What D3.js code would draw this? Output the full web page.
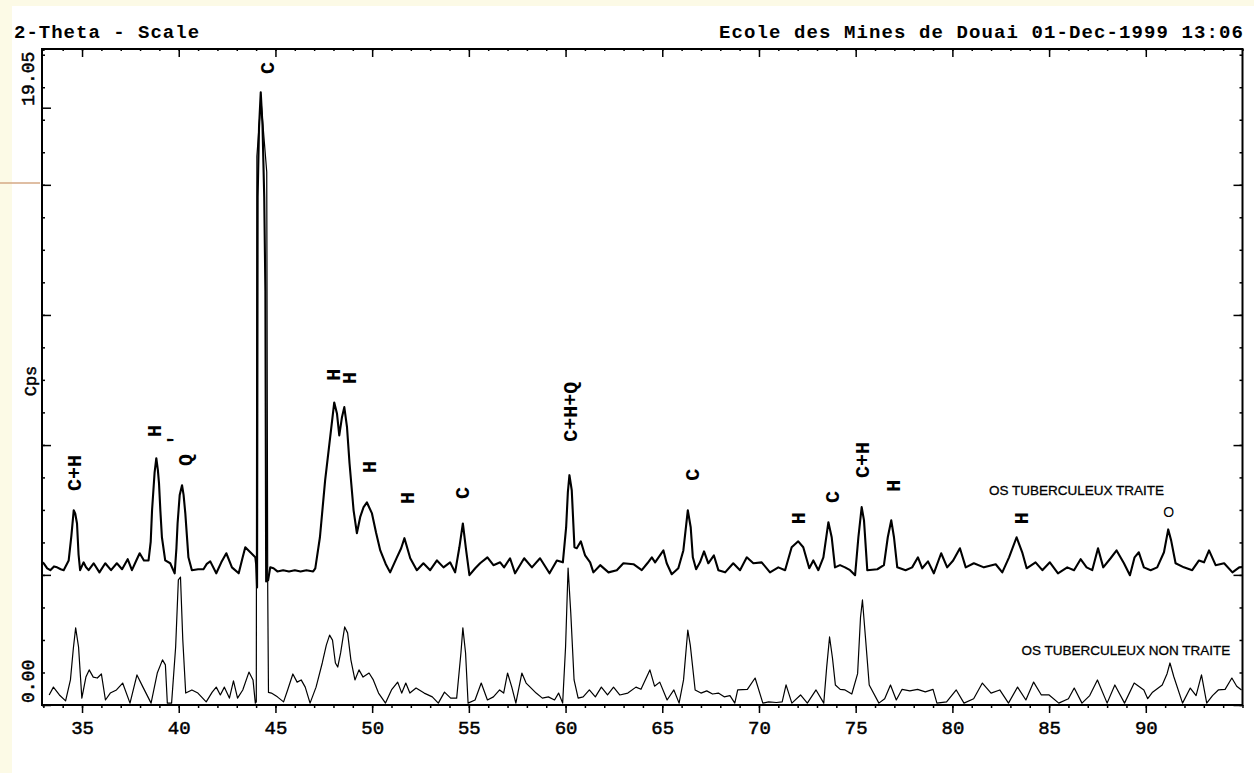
<!DOCTYPE html>
<html>
<head>
<meta charset="utf-8">
<script src="https://cdn.jsdelivr.net/npm/d3@7"></script>
<style>
  html, body { margin: 0; padding: 0; background: #fcfae6; }
  svg { display: block; }
  .mono { font-family: "Liberation Mono", "DejaVu Sans Mono", monospace; font-weight: bold; fill: #000; }
  .sans { font-family: "Liberation Sans", Arial, sans-serif; fill: #000; }
  .tick line { stroke: #000; stroke-width: 1.5; }
</style>
</head>
<body>
<svg id="chart" width="1254" height="773"></svg>
<script>
// 2-theta range and axis ticks
var thetaDomain = [32.93, 95.0];
var thetaMajor = [35, 40, 45, 50, 55, 60, 65, 70, 75, 80, 85, 90];
var thetaMinor = d3.range(33, 96, 1);
var cpsLabelTicks = [0, 19.05];
var cpsMajor = [0, 4.15, 8.29, 12.44, 16.59];
var cpsMinor = d3.range(0, 20.9, 1.037);

// vertical offset of the treated sample trace (Cps)
var traiteOffset = 4.2;

// OS TUBERCULEUX TRAITE : [2-theta, Cps]
var traite = [
  [32.95, 0.35], [33.02, 0.32], [33.2, 0.16], [33.36, 0.10], [33.55, 0.22], [33.71, 0.19], [33.9, 0.13], [34.05, 0.10],
  [34.31, 0.41], [34.45, 1.2], [34.57, 2.01], [34.65, 1.9], [34.74, 1.59], [34.82, 0.6], [34.9, 0.10], [35.08, 0.35],
  [35.2, 0.2], [35.34, 0.10], [35.6, 0.32], [35.9, 0.03], [36.2, 0.32], [36.5, 0.10], [36.8, 0.32], [37.07, 0.13],
  [37.36, 0.45], [37.58, 0.10], [37.8, 0.4], [37.98, 0.64], [38.2, 0.41], [38.44, 0.41], [38.55, 1.0], [38.62, 2.01],
  [38.75, 3.2], [38.84, 3.67], [38.92, 3.3], [38.98, 2.87], [39.05, 2.0], [39.13, 1.15], [39.3, 0.41], [39.56, 0.32],
  [39.79, 0.0], [39.88, 0.8], [39.94, 1.59], [40.05, 2.5], [40.17, 2.81], [40.25, 2.5], [40.34, 1.91], [40.5, 0.51],
  [40.68, 0.10], [41.0, 0.13], [41.28, 0.13], [41.45, 0.3], [41.63, 0.38], [41.94, 0.0], [42.2, 0.35], [42.46, 0.64],
  [42.75, 0.19], [43.1, 0.0], [43.3, 0.5], [43.44, 0.83], [43.7, 0.67], [43.96, 0.51], [44.0, 0.3], [44.05, -0.45],
  [44.08, 12.0], [44.15, 14.2], [44.24, 15.34], [44.33, 14.3], [44.42, 12.0], [44.48, 9.0], [44.52, -0.26], [44.62, -0.22],
  [44.73, 0.19], [44.9, 0.16], [45.1, 0.06], [45.4, 0.10], [45.7, 0.06], [46.0, 0.10], [46.3, 0.06], [46.6, 0.10],
  [46.95, 0.06], [47.06, 0.16], [47.3, 1.15], [47.57, 2.97], [47.83, 4.34], [48.04, 5.45], [48.18, 5.10], [48.3, 4.40],
  [48.44, 4.98], [48.56, 5.30], [48.7, 4.66], [48.83, 3.51], [49.04, 2.01], [49.21, 1.28], [49.38, 1.79], [49.55, 2.1],
  [49.73, 2.26], [49.99, 1.91], [50.2, 1.3], [50.42, 0.73], [50.7, 0.3], [50.93, 0.03], [51.28, 0.51], [51.5, 0.8],
  [51.67, 1.12], [51.97, 0.48], [52.31, 0.10], [52.65, 0.32], [53.0, 0.10], [53.35, 0.41], [53.69, 0.19], [54.03, 0.35],
  [54.29, 0.03], [54.51, 0.83], [54.69, 1.59], [54.86, 0.73], [55.03, -0.06], [55.33, 0.16], [55.58, 0.32], [55.96, 0.51],
  [56.27, 0.26], [56.62, 0.35], [56.82, 0.19], [57.13, 0.48], [57.39, 0.0], [57.86, 0.48], [58.26, 0.19], [58.68, 0.48],
  [59.17, 0.0], [59.55, 0.41], [59.86, 0.35], [60.03, 1.47], [60.12, 2.6], [60.2, 3.13], [60.32, 2.65], [60.46, 0.83],
  [60.58, 0.80], [60.79, 1.02], [61.01, 0.57], [61.27, 0.35], [61.44, 0.03], [61.79, 0.26], [62.22, 0.03], [62.65, 0.10],
  [62.99, 0.32], [63.51, 0.29], [63.94, 0.10], [64.23, 0.32], [64.46, 0.51], [64.63, 0.35], [65.06, 0.73], [65.23, 0.32],
  [65.49, -0.03], [65.83, 0.16], [66.09, 0.73], [66.32, 2.01], [66.47, 1.47], [66.58, 0.51], [66.75, 0.13], [66.95, 0.35],
  [67.16, 0.70], [67.38, 0.32], [67.67, 0.57], [67.9, 0.10], [68.25, 0.03], [68.67, 0.32], [69.02, 0.10], [69.37, 0.51],
  [69.71, 0.32], [70.14, 0.35], [70.57, 0.03], [71.0, 0.19], [71.35, 0.10], [71.69, 0.83], [72.03, 1.02], [72.29, 0.83],
  [72.6, 0.16], [72.81, 0.41], [73.07, 0.10], [73.33, 0.51], [73.59, 1.63], [73.76, 1.15], [73.93, 0.19], [74.19, 0.26],
  [74.45, 0.19], [74.71, 0.10], [74.97, -0.06], [75.14, 1.15], [75.31, 2.11], [75.43, 1.69], [75.6, 0.10], [76.12, 0.13],
  [76.46, 0.26], [76.66, 1.15], [76.84, 1.69], [76.98, 1.15], [77.15, 0.19], [77.58, 0.10], [77.92, 0.19], [78.22, 0.51],
  [78.44, 0.16], [78.74, 0.38], [79.04, 0.0], [79.42, 0.64], [79.73, 0.19], [80.04, 0.41], [80.39, 0.80], [80.69, 0.19],
  [81.11, 0.32], [81.63, 0.19], [82.24, 0.29], [82.58, 0.03], [82.93, 0.51], [83.32, 1.15], [83.61, 0.67], [83.84, 0.16],
  [84.3, 0.35], [84.65, 0.10], [85.04, 0.35], [85.46, 0.0], [85.94, 0.19], [86.29, 0.10], [86.63, 0.45], [86.94, 0.19],
  [87.23, 0.10], [87.53, 0.80], [87.8, 0.19], [88.18, 0.48], [88.49, 0.73], [88.87, 0.32], [89.18, -0.06], [89.42, 0.51],
  [89.64, 0.67], [89.9, 0.19], [90.25, 0.10], [90.59, 0.19], [90.94, 0.67], [91.16, 1.40], [91.31, 1.05], [91.54, 0.32],
  [91.97, 0.19], [92.4, 0.10], [92.75, 0.41], [93.01, 0.35], [93.27, 0.73], [93.61, 0.26], [94.05, 0.32], [94.48, 0.03],
  [94.83, 0.19], [95.0, 0.2]
];

// OS TUBERCULEUX NON TRAITE : [2-theta, Cps]
var nonTraite = [
  [33.3, 0.32], [33.52, 0.57], [33.83, 0.32], [34.15, 0.13], [34.4, 0.80], [34.55, 1.8], [34.67, 2.46], [34.82, 1.85],
  [34.99, 0.22], [35.2, 0.89], [35.37, 1.12], [35.58, 0.89], [35.79, 0.86], [36.0, 0.99], [36.21, 0.16], [36.46, 0.38],
  [36.78, 0.48], [37.1, 0.70], [37.48, 0.06], [37.84, 0.96], [38.15, 0.57], [38.57, 0.06], [38.89, 1.02], [39.16, 1.44],
  [39.31, 1.28], [39.41, 0.06], [39.63, 0.06], [39.84, 1.85], [39.98, 3.99], [40.09, 4.08], [40.21, 2.07], [40.36, 0.38],
  [40.68, 0.48], [40.99, 0.38], [41.42, 0.10], [41.73, 0.41], [41.94, 0.57], [42.15, 0.32], [42.36, 0.57], [42.62, 0.22],
  [42.83, 0.77], [43.04, 0.22], [43.31, 0.48], [43.63, 1.05], [43.84, 0.80], [43.96, 0.06], [44.01, 0.1], [44.04, 17.5],
  [44.25, 19.3], [44.55, 17.0], [44.6, 3.7], [44.64, 0.4], [44.79, 0.38], [45.1, 0.26], [45.42, 0.10], [45.63, 0.48],
  [45.9, 0.99], [46.12, 0.73], [46.33, 0.80], [46.54, 0.57], [46.79, 0.06], [47.1, 0.57], [47.42, 1.34], [47.63, 1.91],
  [47.8, 2.23], [47.95, 2.07], [48.1, 1.34], [48.22, 1.21], [48.37, 1.66], [48.58, 2.49], [48.73, 2.30], [48.9, 1.44],
  [49.11, 0.80], [49.32, 1.12], [49.53, 0.89], [49.84, 1.02], [50.06, 0.80], [50.33, 0.38], [50.69, 0.06], [51.0, 0.48],
  [51.32, 0.73], [51.53, 0.38], [51.74, 0.70], [51.95, 0.38], [52.27, 0.54], [52.69, 0.38], [53.11, 0.26], [53.42, 0.06],
  [53.74, 0.41], [54.06, 0.22], [54.37, 0.22], [54.59, 1.66], [54.69, 2.46], [54.83, 1.66], [54.96, 0.06], [55.32, 0.16],
  [55.64, 0.70], [55.96, 0.16], [56.27, 0.26], [56.59, 0.48], [56.8, 0.38], [57.0, 1.02], [57.22, 0.57], [57.43, 0.06],
  [57.74, 1.02], [57.96, 0.70], [58.17, 0.57], [58.48, 0.38], [58.8, 0.22], [59.11, 0.26], [59.43, 0.16], [59.64, 0.38],
  [59.85, 0.06], [60.0, 1.85], [60.13, 4.37], [60.27, 2.93], [60.44, 0.80], [60.65, 0.22], [60.91, 0.26], [61.23, 0.48],
  [61.54, 0.26], [61.85, 0.57], [62.17, 0.32], [62.48, 0.57], [62.8, 0.32], [63.22, 0.38], [63.64, 0.57], [63.9, 0.5],
  [64.36, 1.12], [64.6, 0.6], [64.87, 0.73], [65.25, 0.16], [65.6, 0.48], [65.87, 0.06], [66.1, 0.8], [66.32, 2.39],
  [66.45, 1.9], [66.7, 0.48], [67.0, 0.38], [67.3, 0.45], [67.6, 0.35], [67.9, 0.38], [68.2, 0.26], [68.5, 0.3],
  [68.75, 0.06], [68.9, 0.48], [69.4, 0.5], [69.8, 0.86], [70.2, 0.06], [70.5, 0.1], [70.9, 0.08], [71.2, 0.1],
  [71.4, 0.64], [71.7, 0.06], [72.15, 0.32], [72.5, 0.06], [72.95, 0.48], [73.35, 0.06], [73.5, 1.2], [73.65, 2.17],
  [73.8, 1.5], [73.95, 0.64], [74.2, 0.5], [74.45, 0.48], [74.8, 0.35], [75.1, 1.0], [75.25, 2.8], [75.35, 3.35],
  [75.5, 2.2], [75.7, 0.64], [76.2, 0.06], [76.5, 0.2], [76.8, 0.64], [77.1, 0.16], [77.4, 0.5], [77.8, 0.45],
  [78.2, 0.5], [78.6, 0.42], [79.0, 0.5], [79.2, 0.06], [79.7, 0.1], [80.2, 0.48], [80.6, 0.06], [81.1, 0.2],
  [81.55, 0.70], [82.0, 0.38], [82.45, 0.48], [82.9, 0.06], [83.37, 0.57], [83.8, 0.16], [84.2, 0.73], [84.6, 0.32],
  [85.0, 0.32], [85.5, 0.06], [86.0, 0.2], [86.3, 0.54], [86.7, 0.06], [87.1, 0.3], [87.5, 0.80], [88.0, 0.06],
  [88.4, 0.64], [88.9, 0.06], [89.4, 0.70], [89.9, 0.48], [90.1, 0.2], [90.35, 0.41], [90.85, 0.64], [91.1, 1.0],
  [91.25, 1.34], [91.45, 0.9], [91.9, 0.06], [92.3, 0.54], [92.6, 0.3], [92.88, 0.96], [93.15, 0.06], [93.45, 0.3],
  [93.75, 0.48], [94.1, 0.5], [94.45, 0.86], [94.7, 0.6], [94.95, 0.48]
];

// phase labels: text, 2-theta, Cps (label centre)
var peakText = ["C+H", "H", "'", "Q", "C", "H", "H", "H", "H", "C", "C+H+Q", "C", "H", "C", "C+H", "H", "H"];
var peakTheta = [34.57, 38.7, 39.82, 40.34, 44.55, 48.0, 48.78, 49.86, 51.8, 54.64, 60.24, 66.52, 72.03, 73.76, 75.31, 76.94, 83.53];
var peakCps = [7.40, 8.74, 8.45, 7.81, 20.32, 10.53, 10.43, 7.59, 6.60, 6.76, 9.35, 7.34, 5.96, 6.63, 7.81, 6.99, 5.96];

var seriesNames = ["OS TUBERCULEUX TRAITE", "OS TUBERCULEUX NON TRAITE"];
var seriesLabelTheta = [81.89, 83.57];
var seriesLabelCps = [6.86, 1.75];

var svg = d3.select("#chart");
var W = 1254, H = 773;

// page background: cream border with a white sheet
svg.append("rect").attr("width", W).attr("height", H).attr("fill", "#fcfae6");
svg.append("rect").attr("x", 12).attr("y", 6).attr("width", W - 12).attr("height", H - 6).attr("fill", "#fff");
svg.append("line").attr("x1", 0).attr("x2", 40).attr("y1", 183).attr("y2", 183)
  .attr("stroke", "#d4a985").attr("stroke-width", 1.5);

var plot = { left: 42, right: 1242.5, top: 49, bottom: 705 };

var x = d3.scaleLinear().domain(thetaDomain).range([plot.left, plot.right]);
var y = d3.scaleLinear().domain([0, 19.05]).range([plot.bottom, 107.7]);

// header texts
svg.append("text").attr("class", "mono").attr("x", 14).attr("y", 38)
  .style("font-size", "19px").style("letter-spacing", "1px")
  .text("2-Theta - Scale");
svg.append("text").attr("class", "mono").attr("x", 1244).attr("y", 38)
  .attr("text-anchor", "end")
  .style("font-size", "19px").style("letter-spacing", "1.1px")
  .text("Ecole des Mines de Douai 01-Dec-1999 13:06");

// axes, ticks pointing like the original plotter output
function noDomain(g) { g.select(".domain").remove(); }

svg.append("g").attr("transform", "translate(0," + plot.bottom + ")")
  .call(d3.axisBottom(x).tickValues(thetaMinor).tickSize(3).tickFormat(""))
  .call(noDomain);
var xb = svg.append("g").attr("transform", "translate(0," + plot.bottom + ")")
  .call(d3.axisBottom(x).tickValues(thetaMajor).tickSize(8).tickPadding(8).tickFormat(d3.format("d")))
  .call(noDomain);
xb.selectAll("text").attr("class", "mono").style("font-size", "19px").style("font-weight", "normal")
  .attr("stroke", "#000").attr("stroke-width", 0.5);

svg.append("g").attr("transform", "translate(0," + plot.top + ")")
  .call(d3.axisTop(x).tickValues(thetaMinor).tickSize(-2).tickFormat(""))
  .call(noDomain);
svg.append("g").attr("transform", "translate(0," + plot.top + ")")
  .call(d3.axisTop(x).tickValues(thetaMajor).tickSize(-8).tickFormat(""))
  .call(noDomain);

svg.append("g").attr("transform", "translate(" + plot.left + ",0)")
  .call(d3.axisLeft(y).tickValues(cpsMinor).tickSize(-3).tickFormat(""))
  .call(noDomain);
svg.append("g").attr("transform", "translate(" + plot.left + ",0)")
  .call(d3.axisLeft(y).tickValues(cpsMajor.concat([19.05])).tickSize(-9).tickFormat(""))
  .call(noDomain);
svg.append("g").attr("transform", "translate(" + plot.right + ",0)")
  .call(d3.axisRight(y).tickValues(cpsMinor).tickSize(-3).tickFormat(""))
  .call(noDomain);
svg.append("g").attr("transform", "translate(" + plot.right + ",0)")
  .call(d3.axisRight(y).tickValues(cpsMajor).tickSize(-9).tickFormat(""))
  .call(noDomain);

// frame
svg.append("rect")
  .attr("x", plot.left).attr("y", plot.top)
  .attr("width", plot.right - plot.left).attr("height", plot.bottom - plot.top)
  .attr("fill", "none").attr("stroke", "#000").attr("stroke-width", 2);

// y labels, vertical
svg.selectAll(".ylab").data(cpsLabelTicks).enter().append("text")
  .attr("class", "mono ylab")
  .attr("transform", function(d) { return "translate(28," + (y(d) - 2) + ") rotate(-90)"; })
  .attr("dy", "0.35em")
  .style("font-size", "18px").style("font-weight", "normal")
  .attr("stroke", "#000").attr("stroke-width", 0.5)
  .text(function(d) { return d3.format(".2f")(d); });

svg.append("text").attr("class", "mono")
  .attr("transform", "translate(30," + ((plot.top + plot.bottom) / 2 + 4) + ") rotate(-90)")
  .attr("dy", "0.35em").attr("text-anchor", "middle")
  .style("font-size", "17px").style("font-weight", "normal")
  .attr("stroke", "#000").attr("stroke-width", 0.5)
  .text("Cps");

// traces
var lineNon = d3.line()
  .x(function(d) { return x(d[0]); })
  .y(function(d) { return y(d[1]); });
var lineTraite = d3.line()
  .x(function(d) { return x(d[0]); })
  .y(function(d) { return y(d[1] + traiteOffset); });

svg.append("path").datum(nonTraite)
  .attr("fill", "none").attr("stroke", "#000").attr("stroke-width", 1.2)
  .attr("stroke-linejoin", "round")
  .attr("d", lineNon);
svg.append("path").datum(traite)
  .attr("fill", "none").attr("stroke", "#000").attr("stroke-width", 2.1)
  .attr("stroke-linejoin", "round")
  .attr("d", lineTraite);

// phase labels (rotated like the plotter)
svg.selectAll(".peak").data(peakText).enter().append("text")
  .attr("class", "mono peak")
  .attr("transform", function(d, i) { return "translate(" + x(peakTheta[i]) + "," + y(peakCps[i]) + ") rotate(-90)"; })
  .attr("dy", "0.35em").attr("text-anchor", "middle")
  .style("font-size", "20px")
  .text(function(d) { return d; });

// upright quartz mark
svg.append("text").attr("class", "sans")
  .attr("x", x(91.19)).attr("y", y(6.16))
  .attr("dy", "0.35em").attr("text-anchor", "middle")
  .style("font-size", "14px")
  .text("O");

// series names
svg.selectAll(".sname").data(seriesNames).enter().append("text")
  .attr("class", "sans sname")
  .attr("x", function(d, i) { return x(seriesLabelTheta[i]); })
  .attr("y", function(d, i) { return y(seriesLabelCps[i]); })
  .attr("dy", "0.35em")
  .style("font-size", "13.5px")
  .attr("stroke", "#000").attr("stroke-width", 0.3)
  .text(function(d) { return d; });
</script>
</body>
</html>
